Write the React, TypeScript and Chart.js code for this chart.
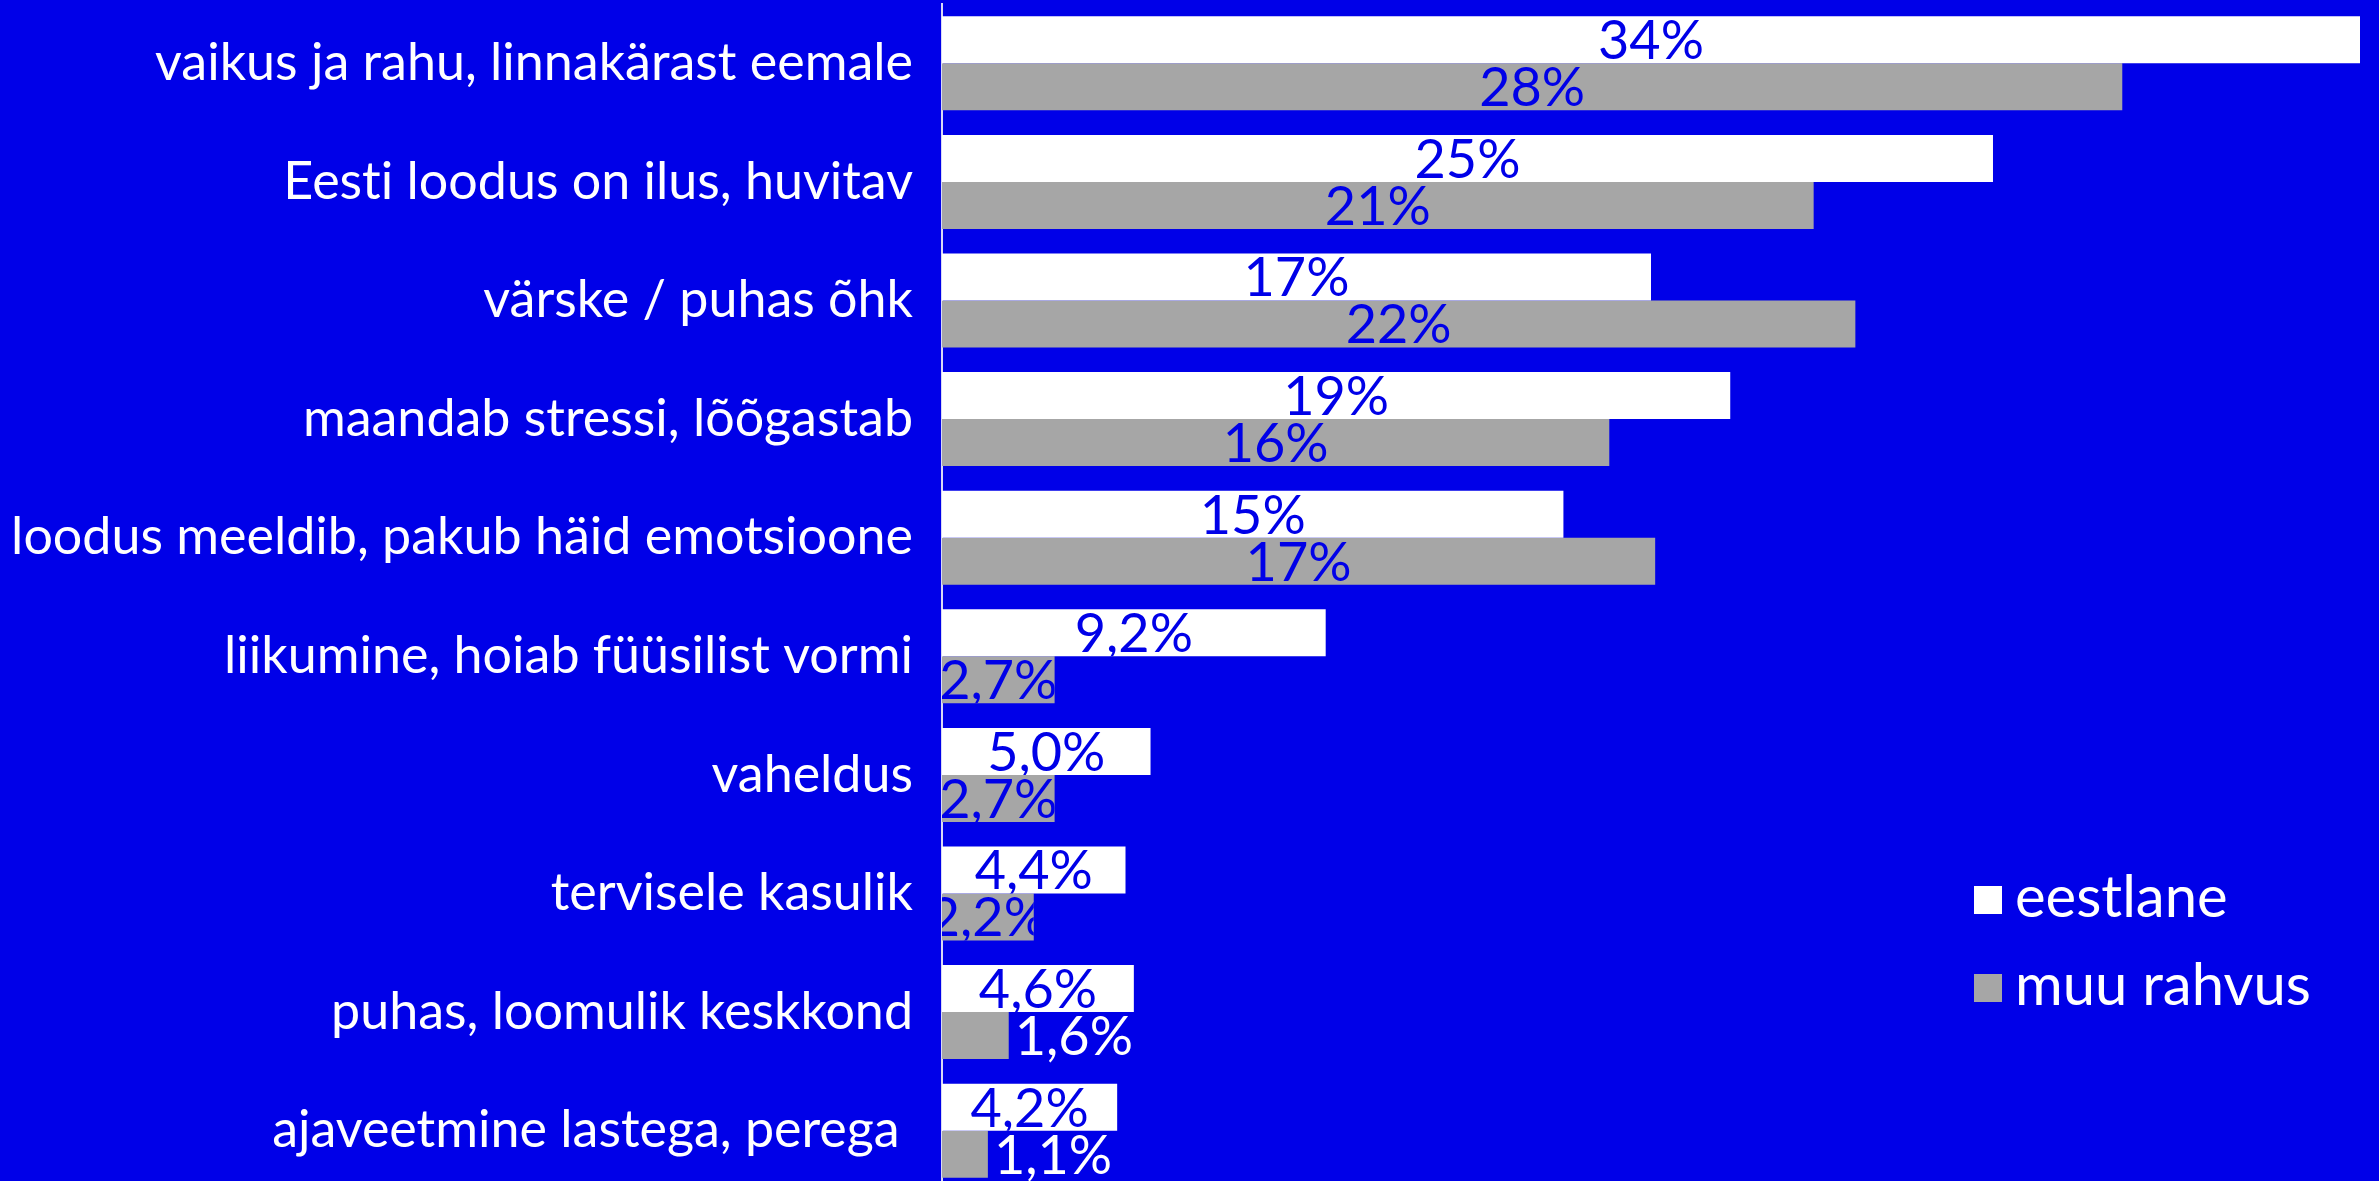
import React, { useEffect, useRef } from "react";
import { Chart, registerables } from "chart.js";

Chart.register(...registerables);

const categories = [
  "vaikus ja rahu, linnakärast eemale",
  "Eesti loodus on ilus, huvitav",
  "värske / puhas õhk",
  "maandab stressi, lõõgastab",
  "loodus meeldib, pakub häid emotsioone",
  "liikumine, hoiab füüsilist vormi",
  "vaheldus",
  "tervisele kasulik",
  "puhas, loomulik keskkond",
  "ajaveetmine lastega, perega ",
];

const eestlane = [34, 25.2, 17, 18.9, 14.9, 9.2, 5.0, 4.4, 4.6, 4.2];
const muuRahvus = [28.3, 20.9, 21.9, 16.0, 17.1, 2.7, 2.7, 2.2, 1.6, 1.1];

const seriesNames = ["eestlane", "muu rahvus"];
const seriesColors = ["#FFFFFF", "#A6A6A6"];

const BG = "#0000E8";
const FONT = "Lato, 'Noto Sans', sans-serif";
const LABEL_SIZE = 52;
const VALUE_SIZE = 54;
const LEGEND_SIZE = 58;

const VIEW_W = 2379;
const VIEW_H = 1181;
const CANVAS_H = 1190;

function fmt(v: number): string {
  if (v >= 10) return Math.round(v) + "%";
  return v.toFixed(1).replace(".", ",") + "%";
}

const bgPlugin = {
  id: "bgFill",
  beforeDraw(chart: any) {
    const { ctx, width, height } = chart;
    try {
      (ctx as any).textRendering = "optimizeSpeed";
    } catch (e) {}
    ctx.save();
    ctx.fillStyle = BG;
    ctx.fillRect(0, 0, width, height);
    ctx.restore();
  },
};

const labelPlugin = {
  id: "barLabels",
  afterDatasetsDraw(chart: any) {
    const { ctx } = chart;
    ctx.save();
    ctx.font = `${VALUE_SIZE}px ${FONT}`;
    ctx.textBaseline = "middle";
    chart.data.datasets.forEach((ds: any, di: number) => {
      const meta = chart.getDatasetMeta(di);
      meta.data.forEach((el: any, i: number) => {
        const v = ds.data[i] as number;
        const { x, y, base, height } = el.getProps(["x", "y", "base", "height"], true);
        const text = fmt(v);
        if (v < 2) {
          ctx.fillStyle = "#FFFFFF";
          ctx.textAlign = "left";
          ctx.fillText(text, x + 6, y + 2);
        } else {
          ctx.save();
          ctx.beginPath();
          ctx.rect(base, y - height / 2, x - base, height);
          ctx.clip();
          ctx.fillStyle = BG;
          ctx.textAlign = "center";
          ctx.fillText(text, (base + x) / 2, y + 2);
          ctx.restore();
        }
      });
    });
    ctx.restore();
  },
};

const legendPlugin = {
  id: "customLegend",
  afterDraw(chart: any) {
    const { ctx, width } = chart;
    const left = width - 405;
    const top0 = VIEW_H - 281;
    const gap = 88;
    const sq = 28;
    ctx.save();
    ctx.font = `${LEGEND_SIZE}px ${FONT}`;
    ctx.textBaseline = "alphabetic";
    ctx.textAlign = "left";
    seriesNames.forEach((name, i) => {
      const cy = top0 + i * gap;
      ctx.fillStyle = seriesColors[i];
      ctx.fillRect(left, cy - sq / 2, sq, sq);
      ctx.fillStyle = "#FFFFFF";
      ctx.fillText(name, left + 41, cy + 17);
    });
    ctx.restore();
  },
};

export default function App() {
  const ref = useRef<HTMLCanvasElement | null>(null);
  useEffect(() => {
    if (!ref.current) return;
    const chart = new Chart(ref.current, {
      type: "bar",
      data: {
        labels: categories,
        datasets: [
          {
            label: seriesNames[0],
            data: eestlane,
            backgroundColor: seriesColors[0],
            borderWidth: 0,
            barPercentage: 1.0,
            categoryPercentage: 0.793,
          },
          {
            label: seriesNames[1],
            data: muuRahvus,
            backgroundColor: seriesColors[1],
            borderWidth: 0,
            barPercentage: 1.0,
            categoryPercentage: 0.793,
          },
        ],
      },
      options: {
        indexAxis: "y",
        responsive: false,
        animation: false,
        devicePixelRatio: 1,
        layout: { padding: { top: 4, bottom: 0, left: 0, right: 19 } },
        plugins: {
          legend: { display: false },
          tooltip: { enabled: false },
        },
        scales: {
          x: { display: false, min: 0, max: 34 },
          y: {
            afterFit(scale: any) {
              scale.width = 942;
              scale.paddingTop = 0;
              scale.paddingBottom = 0;
            },
            grid: { display: false, drawTicks: false },
            border: { display: true, color: "#D9D9F5", width: 2 },
            ticks: {
              color: "#FFFFFF",
              padding: 29,
              font: { family: FONT, size: LABEL_SIZE },
              autoSkip: false,
            },
          },
        },
      },
      plugins: [bgPlugin, labelPlugin, legendPlugin],
    } as any);
    return () => chart.destroy();
  }, []);
  return (
    <div
      style={{
        position: "fixed",
        left: 0,
        top: 0,
        width: VIEW_W,
        height: VIEW_H,
        background: BG,
        overflow: "hidden",
      }}
    >
      <canvas ref={ref} width={VIEW_W} height={CANVAS_H} style={{ display: "block" }} />
    </div>
  );
}
